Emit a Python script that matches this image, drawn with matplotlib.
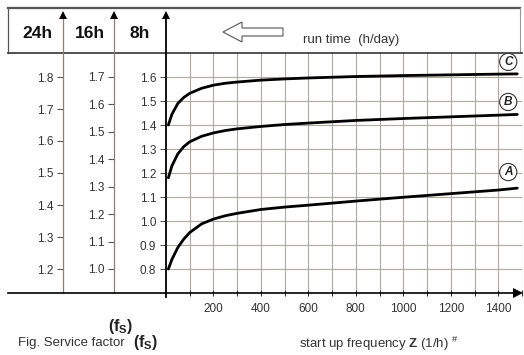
import matplotlib
matplotlib.use('Agg')
import matplotlib.pyplot as plt
from matplotlib.patches import Polygon

plt.rcParams['font.family'] = ['Liberation Sans', 'DejaVu Sans']
plt.rcParams['mathtext.fontset'] = 'custom'
plt.rcParams['mathtext.rm'] = 'Liberation Sans'
plt.rcParams['mathtext.bf'] = 'Liberation Sans:bold'
plt.rcParams['mathtext.it'] = 'Liberation Sans:italic'

# ---------------- data ----------------
z_start = [10, 25, 50, 75, 100, 150, 200, 250, 300, 400, 500, 600, 800, 1000, 1200, 1400, 1480]
fs_C = [1.40, 1.445, 1.49, 1.515, 1.532, 1.553, 1.566, 1.574, 1.579, 1.587, 1.592, 1.596,
        1.602, 1.606, 1.609, 1.612, 1.613]
fs_B = [1.18, 1.23, 1.28, 1.31, 1.33, 1.353, 1.367, 1.377, 1.384, 1.394, 1.402, 1.408,
        1.419, 1.427, 1.434, 1.441, 1.444]
fs_A = [0.80, 0.84, 0.89, 0.925, 0.952, 0.988, 1.008, 1.022, 1.032, 1.048, 1.058, 1.066,
        1.083, 1.099, 1.114, 1.129, 1.137]
curve_names = ['A', 'B', 'C']
label_fs = [1.204, 1.496, 1.663]
label_z = 1442
x_ticks = [200, 400, 600, 800, 1000, 1200, 1400]
x_minor = [100, 300, 500, 700, 900, 1100, 1300, 1500]
ticks_8h = [0.8, 0.9, 1.0, 1.1, 1.2, 1.3, 1.4, 1.5, 1.6]
ticks_16h = [1.0, 1.1, 1.2, 1.3, 1.4, 1.5, 1.6, 1.7]
ticks_24h = [1.2, 1.3, 1.4, 1.5, 1.6, 1.7, 1.8]
col_labels = ['24h', '16h', '8h']

W, H = 524, 355
fig = plt.figure(figsize=(W / 100, H / 100), dpi=100)


def px_rect(x0, y0, x1, y1):
    return [x0 / W, 1 - y1 / H, (x1 - x0) / W, (y1 - y0) / H]


AX_L, AX_R, AX_T, AX_B = 166, 522, 53, 293
ax = fig.add_axes(px_rect(AX_L, AX_T, AX_R, AX_B))
ax.patch.set_alpha(0)
ax.set_xlim(0, (AX_R - AX_L) / 0.24)
ax.set_ylim(0.7, 1.7)

grid_col = '#b0a8a1'
ax.set_xticks(x_ticks)
ax.set_xticks(x_minor, minor=True)
ax.set_yticks(ticks_8h)
ax.set_yticklabels([f'{v:.1f}' for v in ticks_8h])
ax.tick_params(axis='x', which='both', direction='inout', length=5, width=0.8,
               color='#333', labelsize=8.5, labelcolor='#333', pad=5)
ax.tick_params(axis='y', direction='out', length=4, width=0.8, color='#555',
               labelsize=8.5, labelcolor='#333', pad=3)
ax.grid(False)
for v in x_ticks + x_minor:
    ax.axvline(v, color=grid_col, lw=0.8, zorder=0.5)
for v in ticks_8h:
    ax.axhline(v, color=grid_col, lw=0.8, zorder=0.5)
for s in ['top', 'right', 'bottom']:
    ax.spines[s].set_visible(False)
ax.spines['left'].set_color('black')
ax.spines['left'].set_linewidth(1.3)

for fs in [fs_A, fs_B, fs_C]:
    ax.plot(z_start, fs, color='black', lw=2.0, solid_capstyle='round',
            solid_joinstyle='round', clip_on=False)

for name, yv in zip(curve_names, label_fs):
    ax.text(label_z, yv, name, ha='center', va='center', fontsize=8.5,
            fontweight='bold', fontstyle='italic', color='#222',
            bbox=dict(boxstyle='circle,pad=0.22', fc='white', ec='#333', lw=0.8))


def to16(v):
    return 1.0 + (v - 0.8) * 0.875


def from16(v):
    return 0.8 + (v - 1.0) / 0.875


def to24(v):
    return 1.2 + (v - 0.8) * 0.75


def from24(v):
    return 0.8 + (v - 1.2) / 0.75


axw = AX_R - AX_L
sec16 = ax.secondary_yaxis((114 - AX_L) / axw, functions=(to16, from16))
sec16.set_yticks(ticks_16h)
sec16.set_yticklabels([f'{v:.1f}' for v in ticks_16h])
sec24 = ax.secondary_yaxis((63 - AX_L) / axw, functions=(to24, from24))
sec24.set_yticks(ticks_24h)
sec24.set_yticklabels([f'{v:.1f}' for v in ticks_24h])
for sa in (sec16, sec24):
    sa.spines['left'].set_color('#8a8079')
    sa.spines['left'].set_linewidth(0.9)
    sa.tick_params(direction='out', length=4, width=0.8, color='#555',
                   labelsize=8.5, labelcolor='#333', pad=3)

# ---------------- decorations (pixel overlay) ----------------
d = fig.add_axes([0, 0, 1, 1])
d.set_xlim(0, W)
d.set_ylim(H, 0)
d.axis('off')
d.patch.set_alpha(0)

box_c = '#555555'
d.plot([8, 520], [8, 8], color=box_c, lw=1.6)
d.plot([8, 8], [8, 53], color=box_c, lw=0.9)
d.plot([520, 520], [8, 53], color='#999', lw=0.8)
d.plot([8, 522], [53, 53], color='#444', lw=1.3)

# column lines above header line with arrows
d.plot([63, 63], [53, 16], color='#8a8079', lw=0.9)
d.plot([114, 114], [53, 16], color='#8a8079', lw=0.9)
d.plot([166, 166], [53, 16], color='black', lw=1.3)
d.plot([166, 166], [293, 297], color='black', lw=1.3)
for xc in (63, 114, 166):
    d.plot([xc], [15], marker='^', ms=6, color='black', mew=0)

# x axis line with arrow
d.plot([8, 517], [293, 293], color='black', lw=1.2)
d.plot([518], [293], marker='>', ms=7, color='black', mew=0)

# header labels
for name, xc in zip(col_labels, (37, 90, 140)):
    d.text(xc, 33, name, ha='center', va='center', fontsize=12.5,
           fontweight='bold', color='#111')

arrow = Polygon([(223, 32), (242, 22), (242, 28), (283, 28), (283, 36),
                 (242, 36), (242, 42)], closed=True, fc='white', ec='#555', lw=0.8)
d.add_patch(arrow)
d.text(303, 40, 'run time  (h/day)', ha='left', va='center', fontsize=9.5, color='#333')

# bottom captions
fs_lbl = r'$\mathbf{(f}_{\mathbf{S}}\mathbf{)}$'
d.text(121, 327, fs_lbl, ha='center', va='center', fontsize=11.5, color='#222')
d.text(18, 343, 'Fig. Service factor', ha='left', va='center', fontsize=9.5, color='#333')
d.text(133, 342, fs_lbl, ha='left', va='center', fontsize=11.5, color='#222')
d.text(299, 344, r'start up frequency $\mathbf{Z}$ (1/h) $^{\#}$', ha='left',
       va='center', fontsize=9.5, color='#333')

fig.savefig('out.png', dpi=100)
